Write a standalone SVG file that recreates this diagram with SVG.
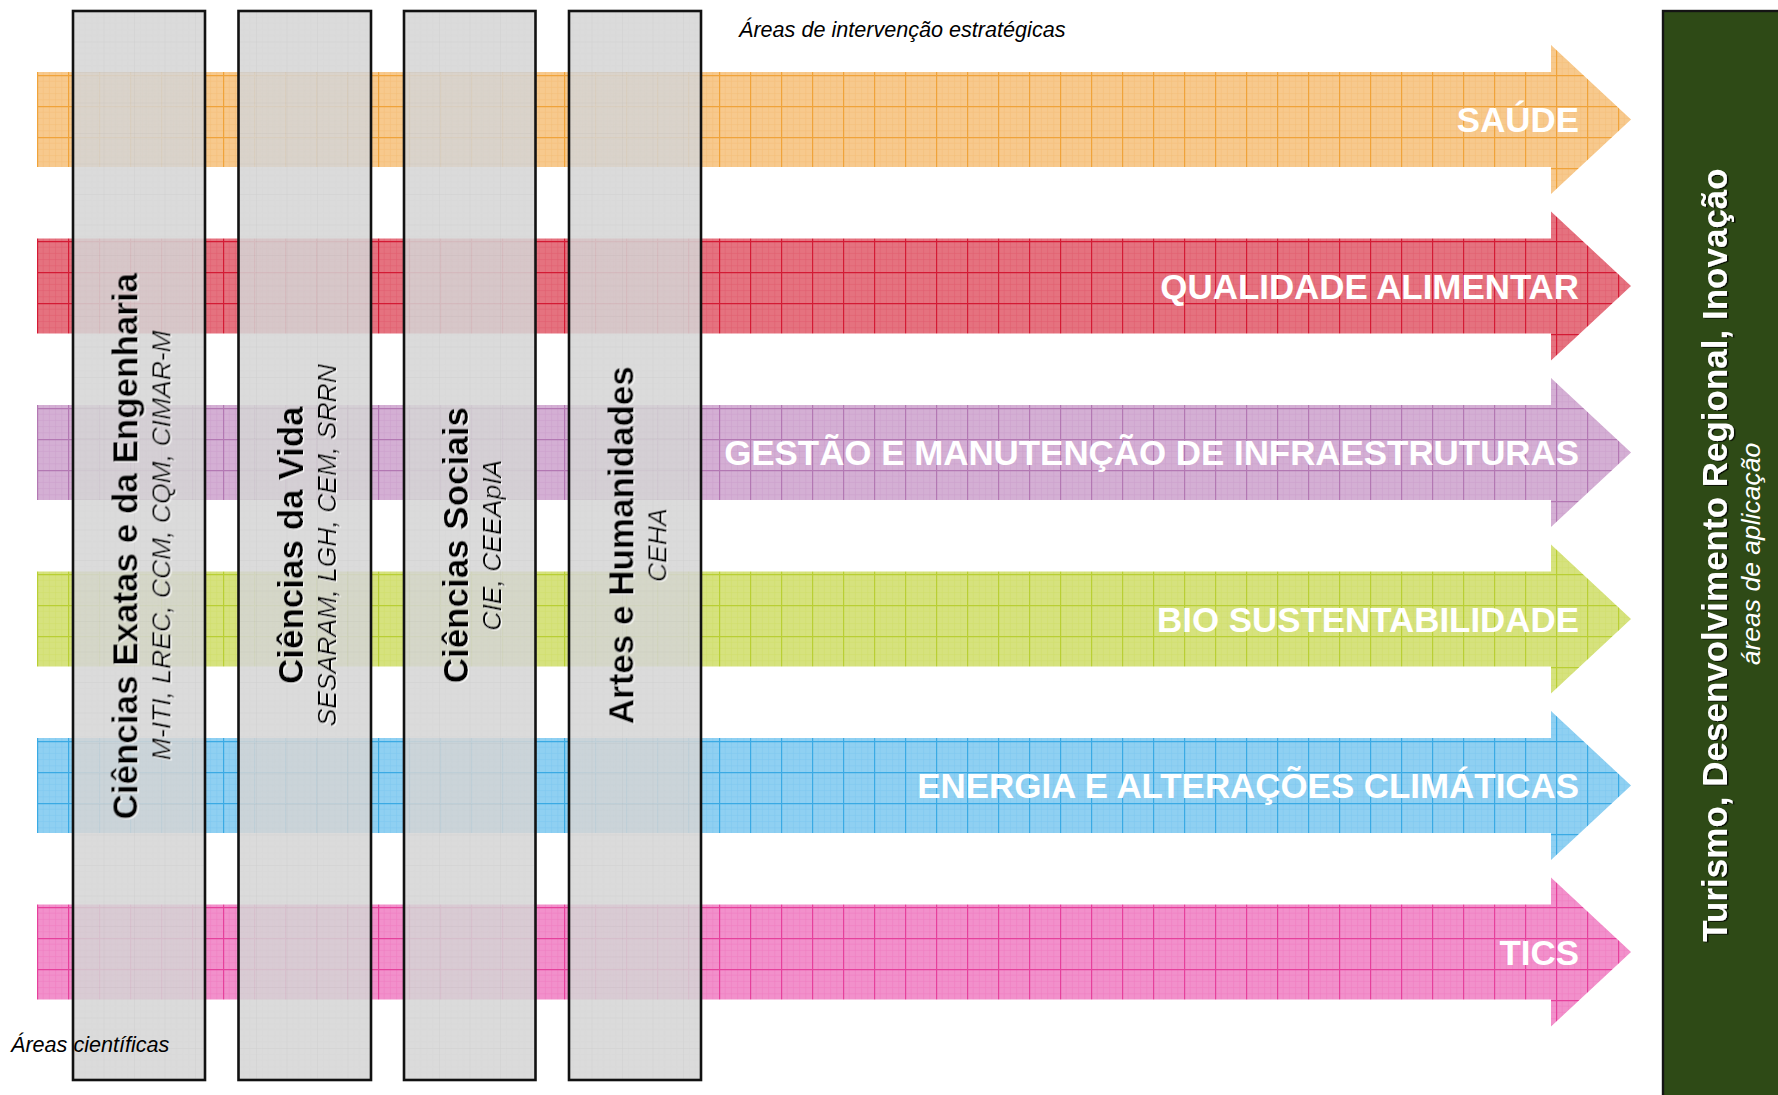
<svg xmlns="http://www.w3.org/2000/svg" width="1778" height="1095" viewBox="0 0 1778 1095">
<style>
.lbl{font-family:"Liberation Sans",Arial,sans-serif;font-weight:bold;font-size:34.9px;fill:#ffffff;text-anchor:end}
.ttl{font-family:"Liberation Sans",Arial,sans-serif;font-weight:bold;font-size:35px;fill:#000000;text-anchor:middle}
.sub{font-family:"Liberation Sans",Arial,sans-serif;font-style:italic;font-size:26.5px;fill:#000000;text-anchor:middle}
.note{font-family:"Liberation Sans",Arial,sans-serif;font-style:italic;font-size:21.6px;fill:#000000}
.col{fill:url(#pcol);fill-opacity:0.86;stroke:#111111;stroke-width:2.6}
.gttl{font-family:"Liberation Sans",Arial,sans-serif;font-weight:bold;font-size:35px;fill:#ffffff;text-anchor:middle}
.gsub{font-family:"Liberation Sans",Arial,sans-serif;font-style:italic;font-size:26.5px;fill:#ffffff;text-anchor:middle}
</style>
<defs>
<filter id="wsh" x="-10%" y="-30%" width="120%" height="160%"><feDropShadow dx="-1" dy="1.2" stdDeviation="0.4" flood-color="#ffffff" flood-opacity="0.95"/></filter>
<filter id="dsh" x="-10%" y="-30%" width="120%" height="160%"><feDropShadow dx="-1" dy="1.5" stdDeviation="0.5" flood-color="#000000" flood-opacity="0.8"/></filter>
<pattern id="pcol" patternUnits="userSpaceOnUse" x="12" y="11" width="30.5" height="30.5">
<rect width="30.5" height="30.5" fill="#d5d5d5"/>
<path d="M0 0V30.5M0 0H30.5" stroke="#c7c7c7" stroke-width="1"/>
<path d="M6.1 0V30.5M12.2 0V30.5M18.3 0V30.5M24.4 0V30.5M0 6.1H30.5M0 12.2H30.5M0 18.3H30.5M0 24.4H30.5" stroke="#cdcdcd" stroke-width="0.6" opacity="0.5"/>
</pattern>
<pattern id="p0" patternUnits="userSpaceOnUse" x="6" y="75" width="31" height="31">
<rect width="31" height="31" fill="#f7c98d"/>
<path d="M6.2 0V31M12.4 0V31M18.6 0V31M24.8 0V31M0 6.2H31M0 12.4H31M0 18.6H31M0 24.8H31" stroke="#f2b464" stroke-width="0.6" opacity="0.5"/>
<path d="M0.6 0V31M0 0.6H31" stroke="#f0a33a" stroke-width="1.2"/>
</pattern>
<pattern id="p1" patternUnits="userSpaceOnUse" x="6" y="241" width="31" height="31">
<rect width="31" height="31" fill="#e5727f"/>
<path d="M6.2 0V31M12.4 0V31M18.6 0V31M24.8 0V31M0 6.2H31M0 12.4H31M0 18.6H31M0 24.8H31" stroke="#dc4a5e" stroke-width="0.6" opacity="0.5"/>
<path d="M0.6 0V31M0 0.6H31" stroke="#d41a34" stroke-width="1.2"/>
</pattern>
<pattern id="p2" patternUnits="userSpaceOnUse" x="6" y="408" width="31" height="31">
<rect width="31" height="31" fill="#d4afd4"/>
<path d="M6.2 0V31M12.4 0V31M18.6 0V31M24.8 0V31M0 6.2H31M0 12.4H31M0 18.6H31M0 24.8H31" stroke="#c592c5" stroke-width="0.6" opacity="0.5"/>
<path d="M0.6 0V31M0 0.6H31" stroke="#b378b3" stroke-width="1.2"/>
</pattern>
<pattern id="p3" patternUnits="userSpaceOnUse" x="6" y="574" width="31" height="31">
<rect width="31" height="31" fill="#d6e27e"/>
<path d="M6.2 0V31M12.4 0V31M18.6 0V31M24.8 0V31M0 6.2H31M0 12.4H31M0 18.6H31M0 24.8H31" stroke="#c9da58" stroke-width="0.6" opacity="0.5"/>
<path d="M0.6 0V31M0 0.6H31" stroke="#b9cf34" stroke-width="1.2"/>
</pattern>
<pattern id="p4" patternUnits="userSpaceOnUse" x="6" y="741" width="31" height="31">
<rect width="31" height="31" fill="#8fd0f2"/>
<path d="M6.2 0V31M12.4 0V31M18.6 0V31M24.8 0V31M0 6.2H31M0 12.4H31M0 18.6H31M0 24.8H31" stroke="#6ec0ec" stroke-width="0.6" opacity="0.5"/>
<path d="M0.6 0V31M0 0.6H31" stroke="#3aaae4" stroke-width="1.2"/>
</pattern>
<pattern id="p5" patternUnits="userSpaceOnUse" x="6" y="907" width="31" height="31">
<rect width="31" height="31" fill="#f290cb"/>
<path d="M6.2 0V31M12.4 0V31M18.6 0V31M24.8 0V31M0 6.2H31M0 12.4H31M0 18.6H31M0 24.8H31" stroke="#ec6cb6" stroke-width="0.6" opacity="0.5"/>
<path d="M0.6 0V31M0 0.6H31" stroke="#e6409c" stroke-width="1.2"/>
</pattern>
</defs>
<rect width="1778" height="1095" fill="#ffffff"/>

<g id="arrow-saude">
<path d="M37 72H1551V45L1631 119.5L1551 194V167H37Z" fill="url(#p0)"/>
<text class="lbl" x="1579" y="132">SAÚDE</text>
</g>
<g id="arrow-qualidade">
<path d="M37 238.5H1551V211.5L1631 286L1551 360.5V333.5H37Z" fill="url(#p1)"/>
<text class="lbl" x="1579" y="298.5">QUALIDADE ALIMENTAR</text>
</g>
<g id="arrow-gestao">
<path d="M37 405H1551V378L1631 452.5L1551 527V500H37Z" fill="url(#p2)"/>
<text class="lbl" x="1579" y="465">GESTÃO E MANUTENÇÃO DE INFRAESTRUTURAS</text>
</g>
<g id="arrow-bio">
<path d="M37 571.5H1551V544.5L1631 619L1551 693.5V666.5H37Z" fill="url(#p3)"/>
<text class="lbl" x="1579" y="631.5">BIO SUSTENTABILIDADE</text>
</g>
<g id="arrow-energia">
<path d="M37 738H1551V711L1631 785.5L1551 860V833H37Z" fill="url(#p4)"/>
<text class="lbl" x="1579" y="798">ENERGIA E ALTERAÇÕES CLIMÁTICAS</text>
</g>
<g id="arrow-tics">
<path d="M37 904.5H1551V877.5L1631 952L1551 1026.5V999.5H37Z" fill="url(#p5)"/>
<text class="lbl" x="1579" y="964.5">TICS</text>
</g>

<g id="col-exatas">
<rect class="col" x="73" y="11" width="132" height="1069"/>
<text class="ttl" filter="url(#wsh)" transform="translate(137.5 546.5) rotate(-90)">Ciências Exatas e da Engenharia</text>
<text class="sub" filter="url(#wsh)" transform="translate(170.5 545.5) rotate(-90)">M-ITI, LREC, CCM, CQM, CIMAR-M</text>
</g>
<g id="col-vida">
<rect class="col" x="238.5" y="11" width="132.5" height="1069"/>
<text class="ttl" filter="url(#wsh)" transform="translate(303 545.5) rotate(-90)">Ciências da Vida</text>
<text class="sub" filter="url(#wsh)" transform="translate(336 545.5) rotate(-90)">SESARAM, LGH, CEM, SRRN</text>
</g>
<g id="col-sociais">
<rect class="col" x="404" y="11" width="131.5" height="1069"/>
<text class="ttl" filter="url(#wsh)" transform="translate(468 545.5) rotate(-90)">Ciências Sociais</text>
<text class="sub" filter="url(#wsh)" transform="translate(501 545.5) rotate(-90)">CIE, CEEApIA</text>
</g>
<g id="col-artes">
<rect class="col" x="569" y="11" width="132" height="1069"/>
<text class="ttl" filter="url(#wsh)" transform="translate(633.5 545.5) rotate(-90)">Artes e Humanidades</text>
<text class="sub" filter="url(#wsh)" transform="translate(666.5 545.5) rotate(-90)">CEHA</text>
</g>

<g id="box-aplicacao">
<rect x="1663" y="11" width="118" height="1090" fill="#2e4a16" stroke="#141414" stroke-width="2.4"/>
<text class="gttl" filter="url(#dsh)" transform="translate(1727 555) rotate(-90)">Turismo, Desenvolvimento Regional, Inovação</text>
<text class="gsub" transform="translate(1760 554) rotate(-90)">áreas de aplicação</text>
</g>

<g id="labels">
<text class="note" x="739" y="37">Áreas de intervenção estratégicas</text>
<text class="note" x="11" y="1052">Áreas científicas</text>
</g>
<g id="connectors"/>
</svg>
